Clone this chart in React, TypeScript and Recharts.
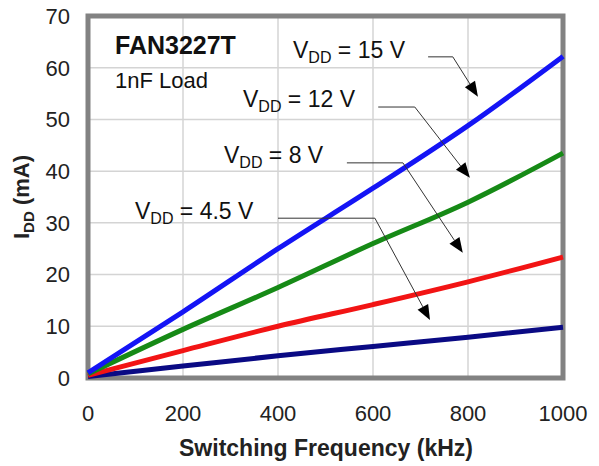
import {
  LineChart, Line, XAxis, YAxis, CartesianGrid,
  ReferenceArea, ReferenceLine,
} from "recharts";

const freq = [0, 200, 400, 600, 800, 1000];
const vdd15 = [1, 12.8, 25, 36.7, 48.8, 62.2];
const vdd12 = [0.8, 9.4, 17.5, 26, 34, 43.5];
const vdd8 = [0.5, 5.3, 10, 14.2, 18.6, 23.4];
const vdd45 = [0.3, 2.3, 4.3, 6.1, 7.9, 9.8];

const xTicks = [0, 200, 400, 600, 800, 1000];
const yTicks = [0, 10, 20, 30, 40, 50, 60, 70];

// leader lines: [start, bend, tip] in data units
const leaders = [
  { label: "15 V", pts: [[716, 62.1], [768, 62.1], [821, 54.4]] },
  { label: "12 V", pts: [[611, 52.4], [688, 52.4], [804, 38.7]] },
  { label: "8 V", pts: [[545, 41.6], [663, 41.6], [789, 24.2]] },
  { label: "4.5 V", pts: [[400, 30.9], [604, 30.9], [720, 11.2]] },
];

const data = freq.map((f, i) => ({
  f, v15: vdd15[i], v12: vdd12[i], v8: vdd8[i], v45: vdd45[i],
}));

const FONT = "'Liberation Sans', Arial, sans-serif";

const Arrow = (props: any) => {
  const { x1, y1, x2, y2 } = props;
  const dx = x2 - x1, dy = y2 - y1;
  const len = Math.sqrt(dx * dx + dy * dy) || 1;
  const ux = dx / len, uy = dy / len;
  const bx = x2 - ux * 15, by = y2 - uy * 15;
  const px = -uy * 6, py = ux * 6;
  return (
    <g>
      <line x1={x1} y1={y1} x2={bx} y2={by} stroke="#333" strokeWidth={1} />
      <path d={`M${x2},${y2} L${bx + px},${by + py} L${bx - px},${by - py} Z`} fill="#000" />
    </g>
  );
};

function VddLabel({ x, y, value }: { x: number; y: number; value: string }) {
  return (
    <text x={x} y={y} fontSize={23} fill="#111" fontFamily={FONT}>
      V<tspan fontSize={16} dy={5}>DD</tspan>
      <tspan dy={-5}>{` = ${value}`}</tspan>
    </text>
  );
}

export default function App() {
  return (
    <div style={{ position: "absolute", left: 0, top: 0, width: 599, height: 466, background: "#fff" }}>
      <LineChart
        width={599}
        height={466}
        data={data}
        margin={{ top: 16, right: 36, left: 0, bottom: 0 }}
      >
        <CartesianGrid stroke="#d4d4d4" strokeWidth={1.5} />
        <XAxis
          dataKey="f"
          type="number"
          domain={[0, 1000]}
          ticks={xTicks}
          height={88}
          tickSize={0}
          tickMargin={27}
          axisLine={false}
          tick={{ fill: "#222", fontSize: 22, fontFamily: FONT }}
        />
        <YAxis
          type="number"
          domain={[0, 70]}
          ticks={yTicks}
          width={88}
          tickSize={0}
          tickMargin={18}
          axisLine={false}
          tick={{ fill: "#222", fontSize: 22, fontFamily: FONT }}
        />
        <Line type="monotone" dataKey="v45" stroke="#0a0a84" strokeWidth={5} dot={false} isAnimationActive={false} />
        <Line type="monotone" dataKey="v8" stroke="#f21414" strokeWidth={5} dot={false} isAnimationActive={false} />
        <Line type="monotone" dataKey="v12" stroke="#168a16" strokeWidth={5} dot={false} isAnimationActive={false} />
        <Line type="monotone" dataKey="v15" stroke="#1414f5" strokeWidth={5} dot={false} isAnimationActive={false} />
        <ReferenceArea x1={0} x2={1000} y1={0} y2={70} fill="none" stroke="#828282" strokeWidth={5} />
        {leaders.map((l) => (
          <ReferenceLine
            key={l.label + "h"}
            segment={[{ x: l.pts[0][0], y: l.pts[0][1] }, { x: l.pts[1][0], y: l.pts[1][1] }]}
            stroke="#333"
            strokeWidth={1}
          />
        ))}
        {leaders.map((l) => (
          <ReferenceLine
            key={l.label + "a"}
            segment={[{ x: l.pts[1][0], y: l.pts[1][1] }, { x: l.pts[2][0], y: l.pts[2][1] }]}
            shape={Arrow}
          />
        ))}
        <g>
          <text x={115} y={54} fontSize={25} fontWeight="bold" fill="#111" fontFamily={FONT}>FAN3227T</text>
          <text x={115} y={88} fontSize={22} fill="#111" fontFamily={FONT}>1nF Load</text>
          <VddLabel x={293} y={58} value="15 V" />
          <VddLabel x={243} y={107} value="12 V" />
          <VddLabel x={224} y={163} value="8 V" />
          <VddLabel x={135} y={219} value="4.5 V" />
          <text x={326} y={456} textAnchor="middle" fontSize={23} fontWeight="bold" fill="#222" fontFamily={FONT}>
            Switching Frequency (kHz)
          </text>
          <text transform="translate(29,197) rotate(-90)" textAnchor="middle" fontSize={22} fontWeight="bold" fill="#222" fontFamily={FONT}>
            I<tspan fontSize={15} dy={5}>DD</tspan>
            <tspan dy={-5}> (mA)</tspan>
          </text>
        </g>
      </LineChart>
    </div>
  );
}
